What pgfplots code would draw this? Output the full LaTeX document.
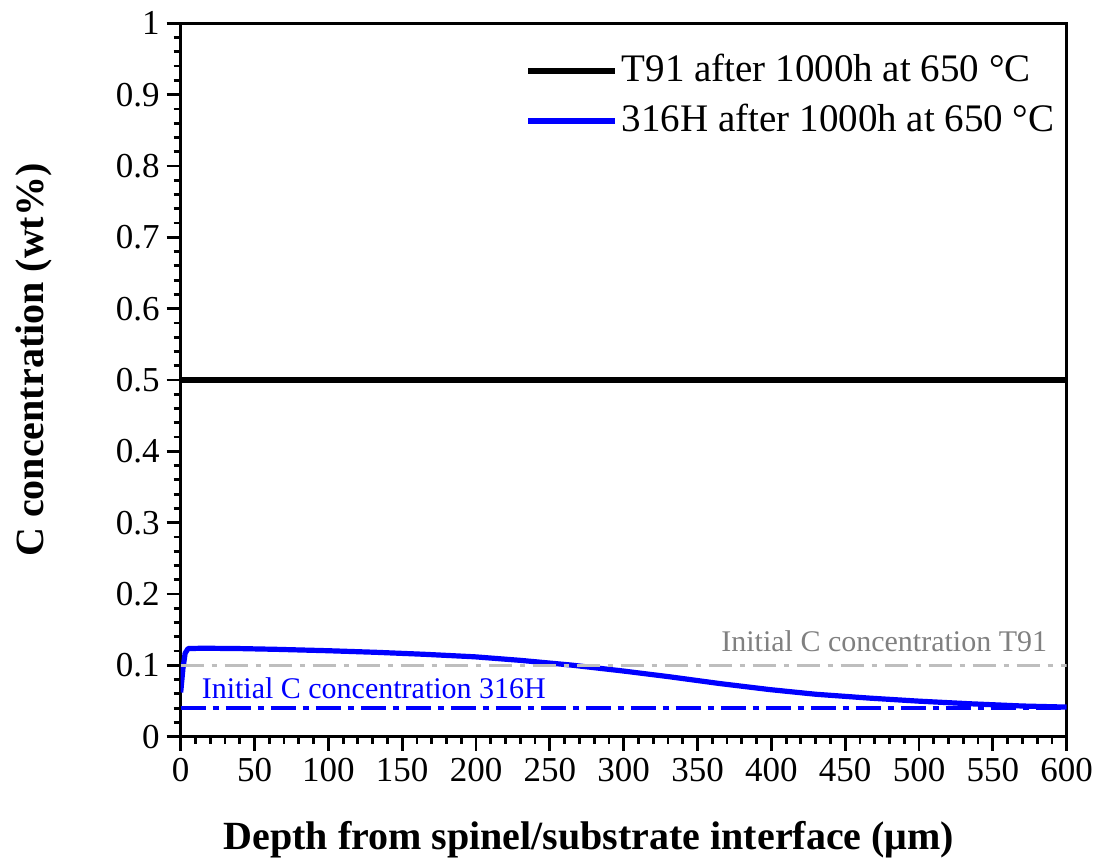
\documentclass[border=0pt]{standalone}
\usepackage{fontspec}
\setmainfont{Liberation Serif}
\usepackage{pgfplots}
\pgfplotsset{compat=1.18}

\definecolor{refgray}{RGB}{190,190,190}
\definecolor{labgray}{RGB}{128,128,128}

\begin{document}
\begin{tikzpicture}
\begin{axis}[
  scale only axis, width=443pt, height=356.7pt,
  xmin=0, xmax=600, ymin=0, ymax=1,
  xtick={0,50,...,600},
  ytick={0,0.1,0.2,0.3,0.4,0.5,0.6,0.7,0.8,0.9,1},
  minor x tick num=4, minor y tick num=4,
  xtick pos=bottom, ytick pos=left, tick align=outside,
  major tick length=7pt, minor tick length=3.5pt,
  tick style={black, line width=1.4pt},
  axis line style={line width=1.5pt},
  tick label style={font=\fontsize{17.5}{20}\selectfont},
  /pgf/number format/assume math mode=true,
  yticklabel style={/pgf/number format/fixed, /pgf/number format/precision=1},
  label style={font=\fontsize{20}{24}\selectfont\bfseries},
  xlabel={Depth from spinel/substrate interface (μm)},
  ylabel={C concentration (wt\%)},
  xlabel style={at={(axis description cs:0.4608,-0.1588)}, anchor=base},
  ylabel style={at={(axis description cs:-0.1554,0.528)}, anchor=base},
  legend style={draw=none, fill=none, at={(0.389,0.968)}, anchor=north west,
    font=\fontsize{19.5}{23}\selectfont, inner sep=0pt,
    nodes={inner xsep=2pt, inner ysep=3.25pt, text height=14pt, text depth=4pt},
    row sep=0.5pt},
  legend image code/.code={\draw[#1] (0pt,0pt) -- (43.5pt,0pt);},
  legend cell align=left,
]
% T91 carbon profile: flat at the initial bulk level
\addplot[black, line width=2.6pt] coordinates {(0,0.5) (600,0.5)};
\addlegendentry{T91 after 1000h at 650 °C}
% 316H carbon profile: carburised near the interface, decaying into the bulk
\addplot[blue, line width=2.6pt, line join=round] coordinates {
  (0,0.062) (1.5,0.095) (3,0.117) (5,0.1235) (15,0.124) (40,0.1235)
  (64,0.1225) (100,0.1205) (132,0.1183) (165,0.1155) (199,0.112)
  (230,0.107) (264,0.1005) (300,0.092) (331,0.084) (365,0.0745)
  (399,0.066) (430,0.0595) (467,0.054) (500,0.0498) (534,0.0462)
  (570,0.043) (600,0.0415)};
\addlegendentry{316H after 1000h at 650 °C}
% initial carbon levels
\addplot[refgray, line width=1.8pt, dash pattern=on 11.5pt off 4pt on 2.5pt off 4pt, forget plot]
  coordinates {(0,0.1) (600,0.1)};
\addplot[blue, line width=2pt, dash pattern=on 12.5pt off 3.5pt on 3pt off 3.5pt, forget plot]
  coordinates {(0,0.04) (600,0.04)};
\node[labgray, anchor=base east, inner sep=0pt, font=\fontsize{15}{18}\selectfont]
  at (axis cs:587,0.119) {Initial C concentration T91};
\node[blue, anchor=base west, inner sep=0pt, font=\fontsize{15}{18}\selectfont]
  at (axis cs:14,0.053) {Initial C concentration 316H};
\end{axis}
\pgfresetboundingbox
\path[use as bounding box] ([shift={(-90.35pt,-62.15pt)}]current axis.south west)
  rectangle ([shift={(459.15pt,368.35pt)}]current axis.south west);
\end{tikzpicture}
\end{document}
